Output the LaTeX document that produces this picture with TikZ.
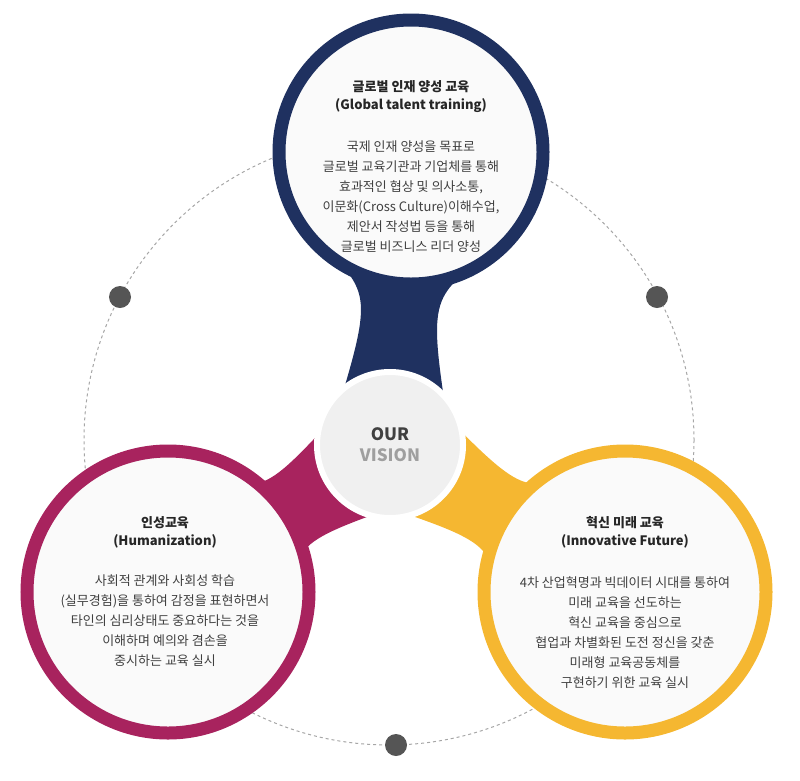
\documentclass[tikz,border=0pt]{standalone}
\usepackage{fontspec}
\setmainfont{Noto Sans CJK KR}
\usetikzlibrary{calc}
\definecolor{navy}{HTML}{1F3160}
\definecolor{berry}{HTML}{A8235E}
\definecolor{amber}{HTML}{F5B731}
\definecolor{dotgray}{HTML}{555555}
\tikzset{
  ring/.style={circle, draw=#1, line width=13pt, fill=gray!4, minimum size=262pt, inner sep=0pt},
  ttl/.style={font=\bfseries\fontsize{13}{18}\selectfont, align=center, text=black!85},
  body/.style={font=\fontsize{13}{20}\selectfont, align=center, text=black!75},
  dot/.style={circle, fill=dotgray, minimum size=22pt, inner sep=0pt}
}
% concave neck from #2 (centre) to #3 (circle)
\newcommand\drawneck[3]{%
  \coordinate (m) at ($(#2)!0.5!(#3)$);
  \coordinate (e) at ($(#3)!100pt!(#2)$);
  \fill[#1] ($(#2)!62pt!90:(#3)$) .. controls ($(m)!28pt!90:(#3)$) .. ($(e)!80pt!-90:(#2)$)
    -- ($(e)!80pt!90:(#2)$) .. controls ($(m)!28pt!-90:(#3)$) .. ($(#2)!62pt!-90:(#3)$) -- cycle;}
\begin{document}
\begin{tikzpicture}[x=1pt,y=-1pt]
\useasboundingbox (0,0) rectangle (800,780);
% dashed orbit
\draw[dashed, gray!70, line width=1pt] (389,440) circle (305);
\node[dot] (d1) at (120,297) {};
\node[dot] (d2) at (657,297) {};
\node[dot] (d3) at (396,745) {};
% centre and necks
\coordinate (c) at (390,445);
\coordinate (t) at (411,152);
\coordinate (l) at (168,592);
\coordinate (r) at (625,592);
\drawneck{navy}{c}{t}
\drawneck{berry}{c}{l}
\drawneck{amber}{c}{r}
% Top circle
\node[ring=navy, minimum size=264pt] (top) at (t) {};
\node[ttl] (toptitle) at (411,97) {글로벌 인재 양성 교육\\(Global talent training)};
\node[body] (toptext) at (411,197) {국제 인재 양성을 목표로\\글로벌 교육기관과 기업체를 통해\\효과적인 협상 및 의사소통,\\이문화(Cross Culture)이해수업,\\제안서 작성법 등을 통해\\글로벌 비즈니스 리더 양성};
% Left circle
\node[ring=berry, minimum size=282pt] (left) at (l) {};
\node[ttl] (lefttitle) at (165,532) {인성교육\\(Humanization)};
\node[body] (lefttext) at (165,621) {사회적 관계와 사회성 학습\\(실무경험)을 통하여 감정을 표현하면서\\타인의 심리상태도 중요하다는 것을\\이해하며 예의와 겸손을\\중시하는 교육 실시};
% Right circle
\node[ring=amber, minimum size=282pt] (right) at (r) {};
\node[ttl] (righttitle) at (625,532) {혁신 미래 교육\\(Innovative Future)};
\node[body] (righttext) at (625,633) {4차 산업혁명과 빅데이터 시대를 통하여\\미래 교육을 선도하는\\혁신 교육을 중심으로\\협업과 차별화된 도전 정신을 갖춘\\미래형 교육공동체를\\구현하기 위한 교육 실시};
% Vision
\node[circle, fill=gray!12, draw=white, line width=6pt, minimum size=146pt,
  font=\bfseries\fontsize{17}{21}\selectfont, align=center] (vision) at (c)
  {\textcolor{black!75}{OUR}\\\textcolor{gray!75}{VISION}};
\end{tikzpicture}
\end{document}
